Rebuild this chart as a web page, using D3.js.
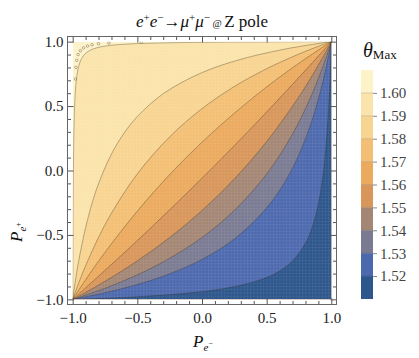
<!DOCTYPE html>
<html>
<head>
<meta charset="utf-8">
<script src="https://cdn.jsdelivr.net/npm/d3@7"></script>
<style>
  body { margin: 0; background: #fff; }
  text { font-family: "Liberation Serif", "DejaVu Serif", serif; }
</style>
</head>
<body>
<svg id="chart" width="419" height="358"></svg>
<script>
// theta_Max contour levels and the band colours (lowest band first)
var levels = [1.52, 1.53, 1.54, 1.55, 1.56, 1.57, 1.58, 1.59, 1.60];
var bandEdges = [1.51, 1.52, 1.53, 1.54, 1.55, 1.56, 1.57, 1.58, 1.59, 1.60, 1.61];
var bandColors = ["#2d568c", "#4d69ae", "#7a7b93", "#a48674", "#d8965a",
                  "#ebaa5e", "#f3bf74", "#f8d491", "#fbe4ab", "#fdf2c8"];

// contour lines, points are [P_e-, P_e+]
var line152 = [[-1,-1],[-0.5,-0.98],[0,-0.94],[0.3,-0.891],[0.5,-0.83],[0.6,-0.78],[0.7,-0.702],
               [0.8,-0.565],[0.85,-0.448],[0.9,-0.26],[0.93,-0.08],[0.95,0.093],[0.97,0.34],
               [0.98,0.508],[0.99,0.72],[1,1]];
var line153 = [[-1,-1],[-0.75,-0.949],[-0.5,-0.885],[-0.25,-0.802],[0,-0.69],[0.25,-0.532],
               [0.5,-0.29],[0.65,-0.073],[0.75,0.124],[0.85,0.387],[0.92,0.63],[0.97,0.847],[1,1]];
var line154 = [[-1,-1],[-0.75,-0.914],[-0.5,-0.81],[-0.25,-0.681],[0,-0.52],[0.25,-0.31],
               [0.5,-0.027],[0.7,0.283],[0.85,0.591],[0.95,0.85],[1,1]];
var line155 = [[-1,-1],[-0.9,-0.946],[-0.75,-0.86],[-0.5,-0.701],[-0.25,-0.52],[0,-0.31],
               [0.25,-0.065],[0.5,0.225],[0.75,0.573],[0.9,0.818],[1,1]];
var line156 = [[-1,-1],[-0.9,-0.911],[-0.75,-0.775],[-0.5,-0.544],[-0.25,-0.305],[0,-0.06],
               [0.25,0.193],[0.5,0.454],[0.75,0.723],[0.9,0.888],[1,1]];
var line157 = [[-1,-1],[-0.9,-0.848],[-0.75,-0.635],[-0.5,-0.315],[-0.25,-0.032],[0,0.22],
               [0.25,0.445],[0.5,0.649],[0.75,0.833],[0.9,0.935],[1,1]];
var line158 = [[-1,-1],[-0.95,-0.864],[-0.9,-0.739],[-0.8,-0.519],[-0.7,-0.331],[-0.5,-0.026],
               [-0.25,0.261],[0,0.48],[0.25,0.652],[0.5,0.79],[0.75,0.904],[0.9,0.964],[1,1]];
var line159 = [[-1,-1],[-0.97,-0.799],[-0.95,-0.683],[-0.9,-0.443],[-0.85,-0.254],[-0.8,-0.102],
               [-0.7,0.128],[-0.6,0.294],[-0.5,0.419],[-0.3,0.596],[0,0.76],[0.3,0.863],
               [0.6,0.934],[0.8,0.97],[1,1]];
var line160 = [[-1,-1],[-0.998,-0.5],[-0.995,0],[-0.985,0.5],[-0.972,0.7],[-0.956,0.8],
               [-0.94,0.85],[-0.93,0.871],[-0.905,0.905],[-0.871,0.93],[-0.85,0.94],[-0.8,0.956],
               [-0.7,0.972],[-0.5,0.985],[0,0.995],[0.5,0.998],[1,1]];
// broken 1.61 contour squeezed into the corner
var dots161 = [[-0.978,0.71],[-0.975,0.8],[-0.968,0.855],[-0.958,0.9],[-0.94,0.93],[-0.915,0.952],
               [-0.885,0.966],[-0.85,0.976],[-0.8,0.984],[-0.72,0.99],[-0.47,0.995]];

var majorTicks = [-1, -0.5, 0, 0.5, 1];
var minorTicks = [-0.9,-0.8,-0.7,-0.6,-0.4,-0.3,-0.2,-0.1,0.1,0.2,0.3,0.4,0.6,0.7,0.8,0.9];

var contours = [line152, line153, line154, line155, line156, line157, line158, line159, line160];

var svg = d3.select("#chart");
svg.append("rect").attr("width", 419).attr("height", 358).attr("fill", "#fff");

var xScale = d3.scaleLinear().domain([-1.04, 1.04]).range([67.5, 336.5]);
var yScale = d3.scaleLinear().domain([-1.04, 1.04]).range([304.5, 36.5]);

var defs = svg.append("defs");
defs.append("clipPath").attr("id", "clip")
  .append("rect")
  .attr("x", xScale(-1)).attr("y", yScale(1))
  .attr("width", xScale(1) - xScale(-1)).attr("height", yScale(-1) - yScale(1));

// faint mesh seen in the rendered fills
var mesh = defs.append("pattern").attr("id", "mesh")
  .attr("patternUnits", "userSpaceOnUse").attr("width", 3.25).attr("height", 3.25);
mesh.append("path").attr("d", "M0,0.5H3.25M0.5,0V3.25")
  .attr("stroke", "#fff").attr("stroke-opacity", 0.08).attr("stroke-width", 0.8);

var plot = svg.append("g").attr("clip-path", "url(#clip)");

plot.append("rect")
  .attr("x", xScale(-1)).attr("y", yScale(1))
  .attr("width", xScale(1) - xScale(-1)).attr("height", yScale(-1) - yScale(1))
  .attr("fill", bandColors[9]);

var lineGen = d3.line()
  .x(function(d) { return xScale(d[0]); })
  .y(function(d) { return yScale(d[1]); })
  .curve(d3.curveCatmullRom);

// fill: everything below-right of each contour, highest level first
for (var i = contours.length - 1; i >= 0; i--) {
  plot.append("path")
    .attr("d", lineGen(contours[i]) + "L" + xScale(1) + "," + yScale(-1) + "Z")
    .attr("fill", bandColors[i]);
}

plot.append("rect")
  .attr("x", xScale(-1)).attr("y", yScale(1))
  .attr("width", xScale(1) - xScale(-1)).attr("height", yScale(-1) - yScale(1))
  .attr("fill", "url(#mesh)");

plot.selectAll(".cline")
  .data(contours)
  .enter()
  .append("path")
  .attr("class", "cline")
  .attr("d", function(d) { return lineGen(d); })
  .attr("fill", "none")
  .attr("stroke", "#3a3020")
  .attr("stroke-opacity", 0.5)
  .attr("stroke-width", 0.7);

plot.selectAll(".dot")
  .data(dots161)
  .enter()
  .append("circle")
  .attr("cx", function(d) { return xScale(d[0]); })
  .attr("cy", function(d) { return yScale(d[1]); })
  .attr("r", 1.3)
  .attr("fill", "none")
  .attr("stroke", "#8a7d62")
  .attr("stroke-width", 0.6);

//frame and ticks
function styleAxis(g) {
  g.select(".domain").remove();
  g.selectAll("line").attr("stroke", "#555");
  g.selectAll("text").attr("font-family", "Liberation Serif").attr("font-size", 15).attr("fill", "#222");
}

svg.append("g").attr("transform", "translate(0," + yScale(-1.04) + ")")
  .call(d3.axisBottom(xScale).tickValues(majorTicks).tickSize(-6).tickPadding(8).tickFormat(d3.format(".1f")))
  .call(styleAxis);
svg.append("g").attr("transform", "translate(0," + yScale(-1.04) + ")")
  .call(d3.axisBottom(xScale).tickValues(minorTicks).tickSize(-3.5).tickFormat(""))
  .call(styleAxis);
svg.append("g").attr("transform", "translate(0," + yScale(1.04) + ")")
  .call(d3.axisTop(xScale).tickValues(majorTicks).tickSize(-6).tickFormat(""))
  .call(styleAxis);
svg.append("g").attr("transform", "translate(0," + yScale(1.04) + ")")
  .call(d3.axisTop(xScale).tickValues(minorTicks).tickSize(-3.5).tickFormat(""))
  .call(styleAxis);

svg.append("g").attr("transform", "translate(" + xScale(-1.04) + ",0)")
  .call(d3.axisLeft(yScale).tickValues(majorTicks).tickSize(-6).tickPadding(4).tickFormat(d3.format(".1f")))
  .call(styleAxis);
svg.append("g").attr("transform", "translate(" + xScale(-1.04) + ",0)")
  .call(d3.axisLeft(yScale).tickValues(minorTicks).tickSize(-3.5).tickFormat(""))
  .call(styleAxis);
svg.append("g").attr("transform", "translate(" + xScale(1.04) + ",0)")
  .call(d3.axisRight(yScale).tickValues(majorTicks).tickSize(-6).tickFormat(""))
  .call(styleAxis);
svg.append("g").attr("transform", "translate(" + xScale(1.04) + ",0)")
  .call(d3.axisRight(yScale).tickValues(minorTicks).tickSize(-3.5).tickFormat(""))
  .call(styleAxis);

svg.append("rect")
  .attr("x", xScale(-1.04)).attr("y", yScale(1.04))
  .attr("width", xScale(1.04) - xScale(-1.04)).attr("height", yScale(-1.04) - yScale(1.04))
  .attr("fill", "none").attr("stroke", "#666").attr("stroke-width", 1);

// title
var title = svg.append("text").attr("x", 202).attr("y", 26.5)
  .attr("text-anchor", "middle").attr("font-size", 17).attr("fill", "#111");
title.append("tspan").attr("font-style", "italic").text("e");
title.append("tspan").attr("font-size", 11).attr("dy", -6).text("+");
title.append("tspan").attr("font-style", "italic").attr("dy", 6).text("e");
title.append("tspan").attr("font-size", 11).attr("dy", -6).text("\u2212");
title.append("tspan").attr("dy", 6).text("\u2192");
title.append("tspan").attr("font-style", "italic").text("\u03bc");
title.append("tspan").attr("font-size", 11).attr("dy", -6).text("+");
title.append("tspan").attr("font-style", "italic").attr("dy", 6).text("\u03bc");
title.append("tspan").attr("font-size", 11).attr("dy", -6).text("\u2212");
title.append("tspan").attr("font-size", 10).attr("dy", 6).text(" @ ");
title.append("tspan").text("Z pole");

// axis labels
var xlabel = svg.append("text").attr("x", 203).attr("y", 347)
  .attr("text-anchor", "middle").attr("font-size", 17).attr("fill", "#111");
xlabel.append("tspan").attr("font-style", "italic").text("P");
xlabel.append("tspan").attr("font-style", "italic").attr("font-size", 11).attr("dy", 4).text("e");
xlabel.append("tspan").attr("font-size", 8).attr("dy", -5).text("\u2212");

var ylabel = svg.append("text")
  .attr("transform", "translate(22,232)rotate(-90)")
  .attr("text-anchor", "middle").attr("font-size", 17).attr("fill", "#111");
ylabel.append("tspan").attr("font-style", "italic").text("P");
ylabel.append("tspan").attr("font-style", "italic").attr("font-size", 11).attr("dy", 4).text("e");
ylabel.append("tspan").attr("font-size", 8).attr("dy", -5).text("+");

// colour bar legend
var cScale = d3.scaleLinear().domain([1.51, 1.61]).range([299, 70]);
var bar = svg.append("g");
bar.selectAll("rect")
  .data(bandColors)
  .enter()
  .append("rect")
  .attr("x", 361)
  .attr("width", 12)
  .attr("y", function(d, i) { return cScale(bandEdges[i + 1]); })
  .attr("height", function(d, i) { return cScale(bandEdges[i]) - cScale(bandEdges[i + 1]); })
  .attr("fill", function(d) { return d; });
bar.selectAll("line.sep")
  .data(levels)
  .enter()
  .append("line")
  .attr("class", "sep")
  .attr("x1", 361).attr("x2", 373)
  .attr("y1", function(d) { return cScale(d); })
  .attr("y2", function(d) { return cScale(d); })
  .attr("stroke", "#000").attr("stroke-opacity", 0.2).attr("stroke-width", 0.7);

svg.append("g").attr("transform", "translate(373,0)")
  .call(d3.axisRight(cScale).tickValues(levels).tickSize(4).tickPadding(3).tickFormat(d3.format(".2f")))
  .call(function(g) {
    g.select(".domain").remove();
    g.selectAll("line").attr("stroke", "#888");
    g.selectAll("text").attr("font-family", "Liberation Serif").attr("font-size", 15).attr("fill", "#444");
  });

var ctitle = svg.append("text").attr("x", 363).attr("y", 57).attr("fill", "#111");
ctitle.append("tspan").attr("font-style", "italic").attr("font-size", 20).text("\u03b8");
ctitle.append("tspan").attr("font-size", 13).attr("dy", 2).text("Max");
</script>
</body>
</html>
